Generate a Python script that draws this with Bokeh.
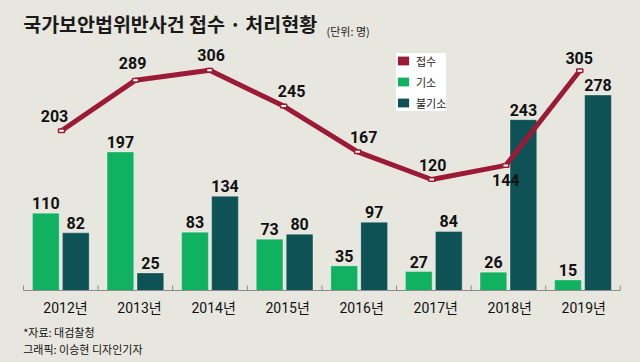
from bokeh.plotting import figure
from bokeh.models import ColumnDataSource, Range1d, Legend, LegendItem, Label
from bokeh.transform import dodge
from bokeh.core.properties import value
from bokeh.embed import file_html
from bokeh.resources import INLINE

# ---- data ----
years = ["2012년", "2013년", "2014년", "2015년", "2016년", "2017년", "2018년", "2019년"]
received = [203, 289, 306, 245, 167, 120, 144, 305]      # 접수
indicted = [110, 197, 83, 73, 35, 27, 26, 15]            # 기소
not_indicted = [82, 25, 134, 80, 97, 84, 243, 278]       # 불기소

title_text = "국가보안법위반사건 접수 · 처리현황"
unit_text = "(단위: 명)"
source_text = "*자료: 대검찰청"
credit_text = "그래픽: 이승현 디자인기자"

# ---- layout / style constants ----
W, H = 640, 362
BG = "#e8e7df"
CRIMSON = "#9b1b37"
GREEN = "#10b262"
TEAL = "#0e5256"
AXIS = "#8c8c8c"
TXT = "#111111"
NUM_FONT = "Roboto, 'Noto Sans CJK KR'"
KR_FONT = "Noto Sans CJK KR"

PX = 74.6          # px per category (bars)
LEFT = 23          # px from canvas left to first category boundary
BASE = 290         # px from top to bar baseline
BAR_SCALE = 0.703  # px per unit (bars)
LINE_PX = 74.04
LINE_LEFT = 23.98
LINE_ZERO = 249.5
LINE_SCALE = 0.5876
OFF = 0.201
BAR_W = 0.358

# label nudges for the line values (screen px, label centre relative to marker)
line_dx = [-7, -3, 1.5, 8, 6, 1, 0, -0.6]
line_dy = [-15, -17, -15, -15, -15, -14.5, 15, -12.5]

n = len(years)
src = ColumnDataSource(dict(
    x=[i + 0.5 for i in range(n)],
    year=years,
    rec=received,
    ind=indicted,
    nind=not_indicted,
    rec_lbl=[str(v) for v in received],
    ind_lbl=[str(v) for v in indicted],
    nind_lbl=[str(v) for v in not_indicted],
    dx=line_dx,
    dy=line_dy,
))

p = figure(
    width=W, height=H,
    x_range=Range1d(-LEFT / PX, (W - LEFT) / PX),
    y_range=Range1d(-(H - BASE) / BAR_SCALE, BASE / BAR_SCALE),
    x_axis_type=None, y_axis_type=None,
    toolbar_location=None, output_backend="svg",
    min_border=0,
)
p.extra_x_ranges = {"line": Range1d(-LINE_LEFT / LINE_PX, (W - LINE_LEFT) / LINE_PX)}
p.extra_y_ranges = {"line": Range1d(-(H - LINE_ZERO) / LINE_SCALE, LINE_ZERO / LINE_SCALE)}
p.background_fill_color = BG
p.border_fill_color = BG
p.outline_line_color = None
p.grid.visible = False

# bars
p.vbar(x=dodge("x", -OFF, range=p.x_range), top="ind", width=BAR_W, bottom=0,
       source=src, fill_color=GREEN, line_color="#ffffff", line_alpha=0.3, line_width=1)
p.vbar(x=dodge("x", OFF, range=p.x_range), top="nind", width=BAR_W, bottom=0,
       source=src, fill_color=TEAL, line_color="#ffffff", line_alpha=0.3, line_width=1)

# bar value labels
for col, lbl, off in (("ind", "ind_lbl", -OFF), ("nind", "nind_lbl", OFF)):
    p.text(x=dodge("x", off, range=p.x_range), y=col, text=lbl, source=src,
           text_align="center", text_baseline="middle", y_offset=-10,
           text_font=value(NUM_FONT), text_font_style="bold", text_font_size="16px",
           text_color=TXT)

# axis line and boundary ticks
bounds = list(range(n + 1))
p.segment(x0=[bounds[0]], y0=[0], x1=[bounds[-1]], y1=[0], line_color=AXIS, line_width=1)
p.segment(x0=bounds, y0=[0] * len(bounds), x1=bounds, y1=[5 / BAR_SCALE] * len(bounds),
          line_color=AXIS, line_width=1)

# year labels
p.text(x="x", y=0, text="year", source=src, x_range_name="line",
       text_align="center", text_baseline="middle",
       x_offset=4, y_offset=17, text_font=value(NUM_FONT), text_font_size="14px",
       text_color=TXT)

# line
p.line(x="x", y="rec", source=src, x_range_name="line", y_range_name="line",
       line_color=CRIMSON, line_width=5, line_join="round")
p.rect(x="x", y="rec", source=src, x_range_name="line", y_range_name="line",
       width=6, height=3.5, width_units="screen", height_units="screen",
       fill_color="white", line_color=CRIMSON, line_width=1.5)
p.text(x="x", y="rec", text="rec_lbl", source=src, x_range_name="line", y_range_name="line",
       x_offset="dx", y_offset="dy", text_align="center", text_baseline="middle",
       text_font=value(NUM_FONT), text_font_style="bold", text_font_size="16px",
       text_color=TXT)

# legend swatches: zero-height bars (invisible on the chart) carrying the series colours
leg_kw = dict(source=src, x="x", top=0, bottom=0, width=0.01, line_color=None)
r_rec_leg = p.vbar(fill_color=CRIMSON, **leg_kw)
r_ind_leg = p.vbar(fill_color=GREEN, **leg_kw)
r_nind_leg = p.vbar(fill_color=TEAL, **leg_kw)
legend = Legend(
    items=[LegendItem(label="접수", renderers=[r_rec_leg]),
           LegendItem(label="기소", renderers=[r_ind_leg]),
           LegendItem(label="불기소", renderers=[r_nind_leg])],
    location=(396, 251.5), margin=0, padding=7, spacing=5,
    glyph_width=14, glyph_height=11, label_height=16, label_standoff=6,
    label_text_font=KR_FONT, label_text_font_size="11px", label_text_color="#222222",
    background_fill_color="white", background_fill_alpha=1.0, border_line_color=None,
)
p.add_layout(legend)

# title and notes
p.add_layout(Label(x=22.7, y=H - 23, x_units="screen", y_units="screen", text=title_text,
                   text_font=KR_FONT, text_font_style="bold", text_font_size="19.5px",
                   text_baseline="middle", text_color="#1a1a1a"))
p.add_layout(Label(x=326, y=H - 30.7, x_units="screen", y_units="screen", text=unit_text,
                   text_font=KR_FONT, text_font_size="11px", text_baseline="middle",
                   text_color="#222222"))
p.add_layout(Label(x=22.7, y=H - 331, x_units="screen", y_units="screen", text=source_text,
                   text_font=KR_FONT, text_font_size="11px", text_baseline="middle",
                   text_color=TXT))
p.add_layout(Label(x=22.7, y=H - 348, x_units="screen", y_units="screen", text=credit_text,
                   text_font=KR_FONT, text_font_size="11px", text_baseline="middle",
                   text_color=TXT))

html = file_html(p, INLINE)
html = html.replace("</head>", "<style>body{background:%s;}</style></head>" % BG, 1)
open("out.html", "w").write(html)
